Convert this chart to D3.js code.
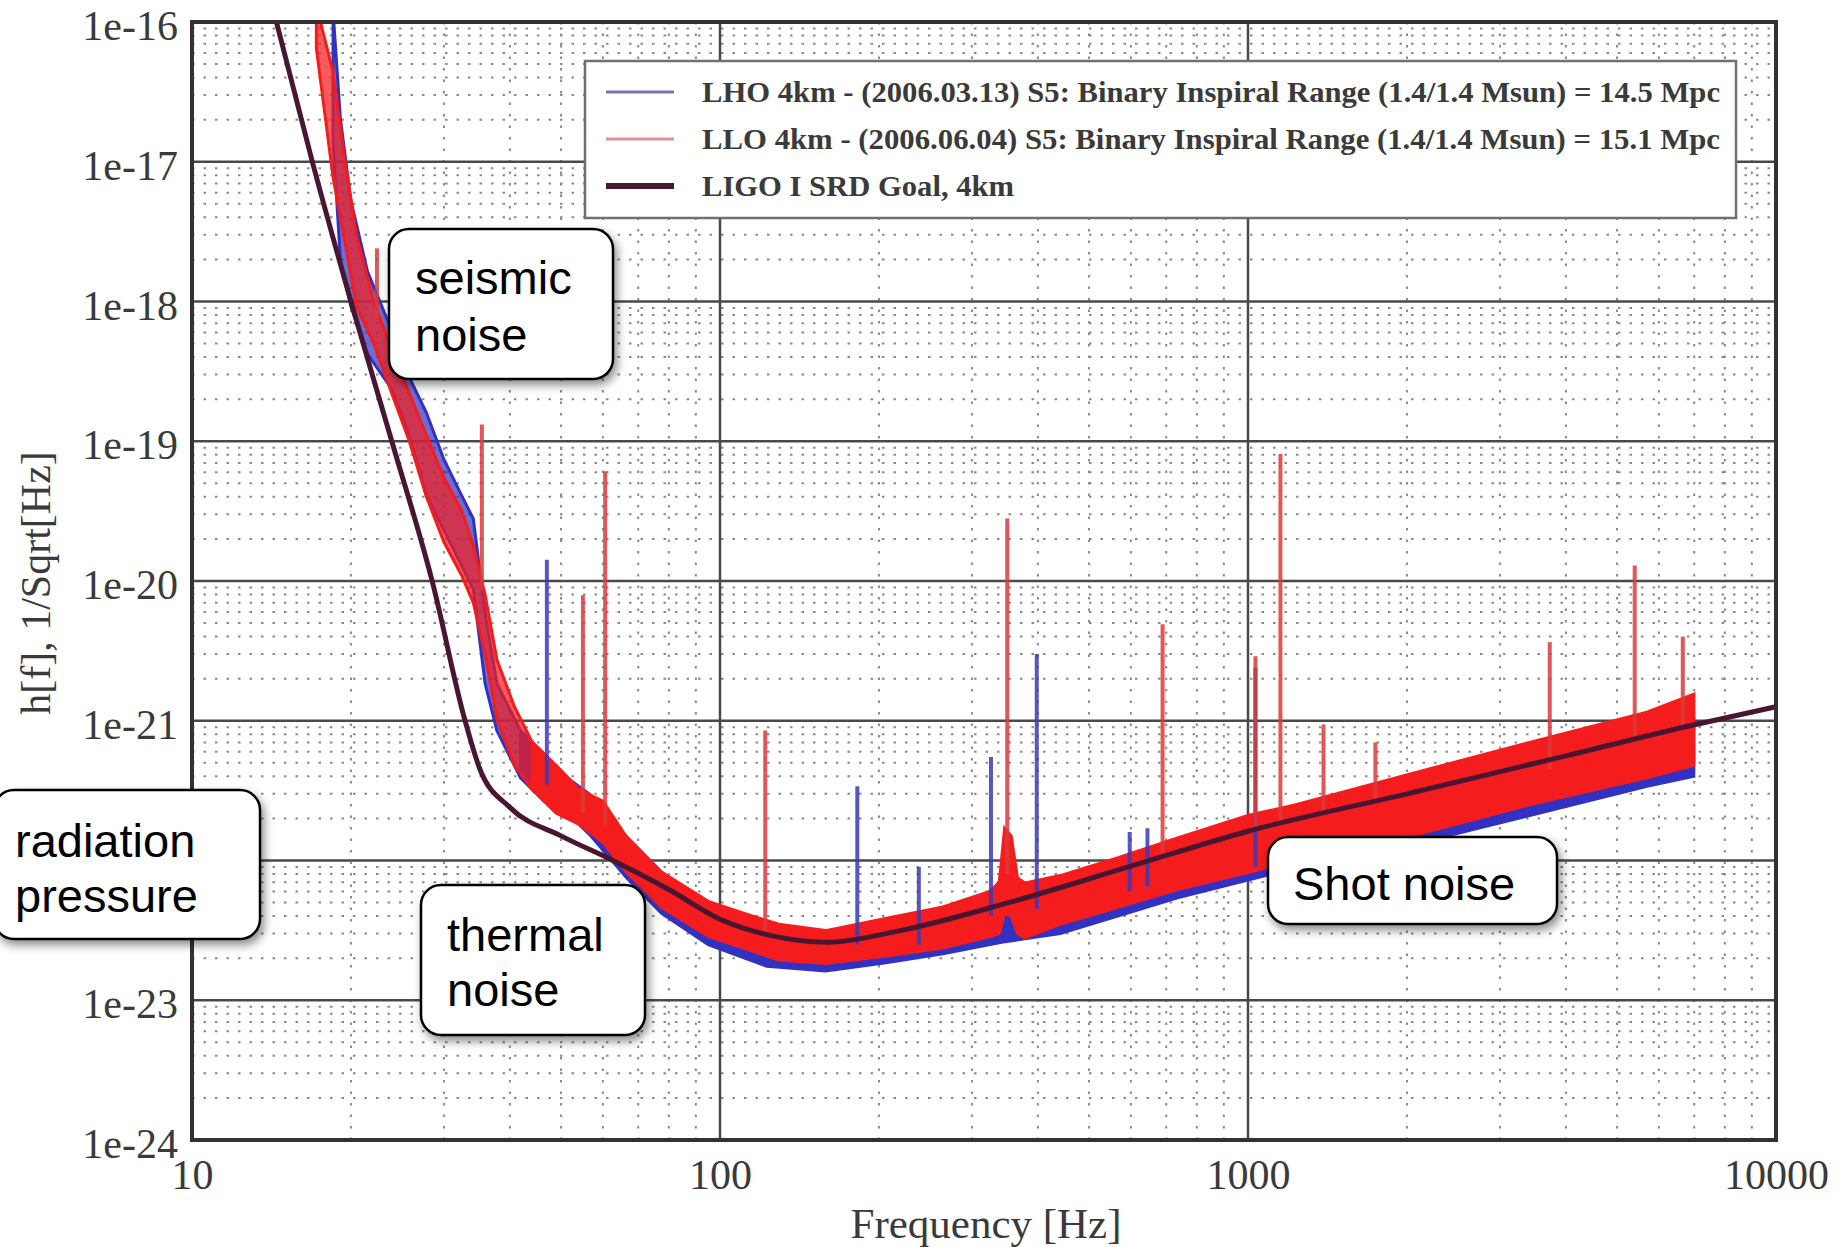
<!DOCTYPE html>
<html>
<head>
<meta charset="utf-8">
<script src="https://cdn.jsdelivr.net/npm/d3@7"></script>
<style>
  body { margin: 0; background: #fff; }
  svg { display: block; }
</style>
</head>
<body>
<svg id="chart" width="1845" height="1247"></svg>
<script>
// LIGO I SRD goal curve (Hz, strain / sqrt(Hz))
var srdFreq   = [14.45, 16.9, 20.0, 23.9, 28.5, 32.9, 35.1, 40, 50, 62.7, 80, 100, 125, 160, 215, 359, 600, 1000, 2000, 4000, 6776, 10000];
var srdStrain = [1e-16, 1e-17, 1e-18, 1e-19, 1e-20, 1e-21, 4.5e-22, 2.4e-22, 1.5e-22, 1.0e-22, 6.2e-23, 3.8e-23, 2.9e-23, 2.6e-23, 3.1e-23, 5.1e-23, 9.1e-23, 1.62e-22, 3.0e-22, 5.6e-22, 9.1e-22, 1.26e-21];

// LLO 4km noise band (upper / lower edge)
var lloFreq = [17.2, 18.5, 19.4, 20.5, 22.1, 23.9, 25.8, 27.8, 30.0, 32.4, 34.1, 35.9, 37.8, 40.8, 44.1, 48.9, 54.1, 60.0, 66.4, 77.4, 95.0, 110.8, 129.2, 158.5, 204.7, 264.4, 324.4, 338, 346, 356, 366, 378.4, 441, 569.6, 735.6, 1000, 1227, 2047, 3415, 5696, 6988];
var lloHigh = [1.3e-16, 4.4e-17, 1.14e-17, 2.93e-18, 1.0e-18, 4.5e-19, 2.2e-19, 1.1e-19, 5.5e-20, 3.2e-20, 1.8e-20, 8.0e-21, 2.73e-21, 1.26e-21, 7.0e-22, 4.8e-22, 3.23e-22, 2.66e-22, 1.49e-22, 8.3e-23, 5.1e-23, 4.2e-23, 3.5e-23, 3.15e-23, 3.83e-23, 4.65e-23, 6.0e-23, 7.0e-23, 1.7e-22, 1.5e-22, 7.5e-23, 6.9e-23, 7.8e-23, 1.05e-22, 1.45e-22, 2.1e-22, 2.5e-22, 4.2e-22, 7.0e-22, 1.15e-21, 1.55e-21];
var lloLow  = [6.5e-17, 7.7e-18, 2.93e-18, 9.2e-19, 5.0e-19, 2.2e-19, 1.0e-19, 4.0e-20, 1.9e-20, 1.1e-20, 7.0e-21, 3.0e-21, 1.03e-21, 4.8e-22, 3.23e-22, 2.19e-22, 1.81e-22, 1.35e-22, 8.3e-23, 4.65e-23, 2.86e-23, 2.36e-23, 1.94e-23, 1.83e-23, 2.06e-23, 2.36e-23, 2.86e-23, 3.0e-23, 4.2e-23, 4.0e-23, 3.0e-23, 2.8e-23, 3.5e-23, 4.65e-23, 6.2e-23, 8.2e-23, 1.0e-22, 1.5e-22, 2.5e-22, 3.9e-22, 4.8e-22];

// LHO 4km noise band
var lhoFreq = [18.5, 19.1, 20.0, 21.5, 23.9, 25.8, 27.8, 30.0, 32.4, 34.1, 35.9, 37.8, 41.9, 46.4, 51.4, 57.0, 66.4, 77.4, 95.0, 122.7, 158.5, 204.7, 264.4, 341.5, 441, 735.6, 1227, 2047, 3415, 5696, 6988];
var lhoHigh = [1.2e-16, 2.04e-17, 5.25e-18, 1.64e-18, 6.2e-19, 2.86e-19, 1.6e-19, 7.4e-20, 4.1e-20, 2.79e-20, 5.9e-21, 1.85e-21, 8.5e-22, 5.8e-22, 3.9e-22, 2.93e-22, 1.49e-22, 8.3e-23, 4.2e-23, 3.15e-23, 3.0e-23, 3.5e-23, 4.2e-23, 5.4e-23, 6.9e-23, 1.11e-22, 1.81e-22, 2.66e-22, 4.3e-22, 7.7e-22, 1.03e-21];
var lhoLow  = [1.4e-17, 2.0e-18, 9.2e-19, 4.2e-19, 2.36e-19, 1.09e-19, 4.1e-20, 2.3e-20, 1.29e-20, 8.7e-21, 1.85e-21, 8.5e-22, 3.9e-22, 2.66e-22, 2.19e-22, 1.49e-22, 7.6e-23, 4.2e-23, 2.5e-23, 1.75e-23, 1.62e-23, 1.85e-23, 2.15e-23, 2.6e-23, 3.0e-23, 5.4e-23, 8.8e-23, 1.3e-22, 2.1e-22, 3.4e-22, 4.0e-22];

// line spikes (frequency, peak, foot)
var lloSpikeFreq = [22.4, 35.4, 55.0, 60.6, 121.8, 350, 689, 1033, 1152, 1390, 1743, 3728, 5400, 6660];
var lloSpikePeak = [2.4e-18, 1.32e-19, 7.9e-21, 6.1e-20, 8.5e-22, 2.8e-20, 4.9e-21, 2.9e-21, 8.1e-20, 9.4e-22, 7.0e-22, 3.65e-21, 1.29e-20, 4.0e-21];
var lloSpikeFoot = [7.6e-19, 8.7e-21, 2.2e-22, 1.8e-22, 3.0e-23, 8.0e-23, 1.0e-22, 1.6e-22, 1.8e-22, 2.2e-22, 2.6e-22, 4.5e-22, 7.0e-22, 9.0e-22];

var lhoSpikeFreq = [47.0, 182, 238, 326, 398, 597, 645, 1033];
var lhoSpikePeak = [1.42e-20, 3.4e-22, 9.0e-23, 5.5e-22, 3.0e-21, 1.6e-22, 1.7e-22, 2.4e-21];
var lhoSpikeFoot = [3.5e-22, 2.5e-23, 2.5e-23, 4.0e-23, 4.5e-23, 6.0e-23, 6.5e-23, 9.0e-23];

var xTicks = [10, 100, 1000, 10000];
var yTicks = [1e-24, 1e-23, 1e-22, 1e-21, 1e-20, 1e-19, 1e-18, 1e-17, 1e-16];

var legendLabels = [
  "LHO 4km - (2006.03.13) S5: Binary Inspiral Range (1.4/1.4 Msun) = 14.5 Mpc",
  "LLO 4km - (2006.06.04) S5: Binary Inspiral Range (1.4/1.4 Msun) = 15.1 Mpc",
  "LIGO I SRD Goal, 4km"
];

var notes = [
  { lines: ["seismic", "noise"] },
  { lines: ["radiation", "pressure"] },
  { lines: ["thermal", "noise"] },
  { lines: ["Shot noise"] }
];

// ---------- layout ----------
var plotL = 192, plotR = 1776, plotT = 22, plotB = 1140;
var serif = "'Liberation Serif', 'DejaVu Serif', serif";
var sans = "'Liberation Sans', Arial, sans-serif";

var x = d3.scaleLog().domain([10, 10000]).range([plotL, plotR]);
var y = d3.scaleLog().domain([1e-24, 1e-16]).range([plotB, plotT]);

var svg = d3.select("#chart");

var defs = svg.append("defs");
defs.append("clipPath").attr("id", "plotClip")
  .append("rect").attr("x", plotL).attr("y", plotT)
  .attr("width", plotR - plotL).attr("height", plotB - plotT);

var shadow = defs.append("filter").attr("id", "shadow")
  .attr("x", "-20%").attr("y", "-20%").attr("width", "150%").attr("height", "160%");
shadow.append("feDropShadow").attr("dx", 3).attr("dy", 5)
  .attr("stdDeviation", 5).attr("flood-color", "#000").attr("flood-opacity", 0.45);

defs.append("filter").attr("id", "soft")
  .append("feGaussianBlur").attr("stdDeviation", 0.7);

svg.append("rect").attr("width", 1845).attr("height", 1247).attr("fill", "#fff");

var chart = svg.append("g").attr("filter", "url(#soft)");

// ---------- grid ----------
var isMajor = function(d){ return Math.abs(Math.log10(d) - Math.round(Math.log10(d))) < 1e-9; };
var grid = chart.append("g");

grid.selectAll("line.mx").data(x.ticks().filter(function(d){ return !isMajor(d); }))
  .enter().append("line")
  .attr("x1", function(d){ return x(d); }).attr("x2", function(d){ return x(d); })
  .attr("y1", plotT).attr("y2", plotB)
  .attr("stroke", "#8a8a8a").attr("stroke-width", 2).attr("stroke-dasharray", "2.5,9");

grid.selectAll("line.my").data(y.ticks().filter(function(d){ return !isMajor(d); }))
  .enter().append("line")
  .attr("x1", plotL).attr("x2", plotR)
  .attr("y1", function(d){ return y(d); }).attr("y2", function(d){ return y(d); })
  .attr("stroke", "#8a8a8a").attr("stroke-width", 2).attr("stroke-dasharray", "2.5,9");

grid.selectAll("line.Mx").data(xTicks)
  .enter().append("line")
  .attr("x1", function(d){ return x(d); }).attr("x2", function(d){ return x(d); })
  .attr("y1", plotT).attr("y2", plotB)
  .attr("stroke", "#4a4a4a").attr("stroke-width", 2.5);

grid.selectAll("line.My").data(yTicks)
  .enter().append("line")
  .attr("x1", plotL).attr("x2", plotR)
  .attr("y1", function(d){ return y(d); }).attr("y2", function(d){ return y(d); })
  .attr("stroke", "#4a4a4a").attr("stroke-width", 2.5);

// ---------- data ----------
var plot = chart.append("g").attr("clip-path", "url(#plotClip)");

function band(freq, hi, lo){
  return freq.map(function(f, i){ return { f: f, hi: hi[i], lo: lo[i] }; });
}
var area = d3.area()
  .x(function(d){ return x(d.f); })
  .y0(function(d){ return y(d.lo); })
  .y1(function(d){ return y(d.hi); });

// the seismic part of each trace is a sparse zigzag, drawn lighter
function drawBand(data, color){
  var split = 44.5;
  var lowPart = data.filter(function(d){ return d.f <= split; });
  var highPart = data.filter(function(d){ return d.f >= lowPart[lowPart.length - 1].f; });
  plot.append("path").datum(lowPart).attr("d", area)
    .attr("fill", color).attr("fill-opacity", 0.72)
    .attr("stroke", color).attr("stroke-width", 3);
  plot.append("path").datum(highPart).attr("d", area)
    .attr("fill", color).attr("stroke", color).attr("stroke-width", 3);
}
drawBand(band(lhoFreq, lhoHigh, lhoLow), "#3232c2");
drawBand(band(lloFreq, lloHigh, lloLow), "#f41e1e");

function spikes(freq, peak, foot){
  return freq.map(function(f, i){ return { f: f, peak: peak[i], foot: foot[i] }; });
}
plot.selectAll("line.lho").data(spikes(lhoSpikeFreq, lhoSpikePeak, lhoSpikeFoot))
  .enter().append("line")
  .attr("x1", function(d){ return x(d.f); }).attr("x2", function(d){ return x(d.f); })
  .attr("y1", function(d){ return y(d.peak); }).attr("y2", function(d){ return y(d.foot); })
  .attr("stroke", "#3a3ab8").attr("stroke-width", 4).attr("opacity", 0.85);

plot.selectAll("line.llo").data(spikes(lloSpikeFreq, lloSpikePeak, lloSpikeFoot))
  .enter().append("line")
  .attr("x1", function(d){ return x(d.f); }).attr("x2", function(d){ return x(d.f); })
  .attr("y1", function(d){ return y(d.peak); }).attr("y2", function(d){ return y(d.foot); })
  .attr("stroke", "#dc3a3a").attr("stroke-width", 4).attr("opacity", 0.85);

var srdLine = d3.line()
  .x(function(d, i){ return x(srdFreq[i]); })
  .y(function(d){ return y(d); })
  .curve(d3.curveMonotoneX);

plot.append("path").datum(srdStrain)
  .attr("d", srdLine).attr("fill", "none")
  .attr("stroke", "#4a1632").attr("stroke-width", 5);

// ---------- frame ----------
chart.append("rect").attr("x", plotL).attr("y", plotT)
  .attr("width", plotR - plotL).attr("height", plotB - plotT)
  .attr("fill", "none").attr("stroke", "#333").attr("stroke-width", 4);

// ---------- axes ----------
var yAxis = svg.append("g").attr("transform", "translate(" + plotL + ",0)")
  .call(d3.axisLeft(y).tickValues(yTicks).tickSize(0).tickPadding(14)
    .tickFormat(function(d){ return "1e" + Math.round(Math.log10(d)); }));
yAxis.select(".domain").remove();
yAxis.selectAll("text").attr("font-family", serif).attr("font-size", 42)
  .attr("fill", "#3a3a3a").attr("dy", "0.42em");

var xAxis = svg.append("g").attr("transform", "translate(0," + plotB + ")")
  .call(d3.axisBottom(x).tickValues(xTicks).tickSize(0).tickPadding(19)
    .tickFormat(d3.format("d")));
xAxis.select(".domain").remove();
xAxis.selectAll("text").attr("font-family", serif).attr("font-size", 42).attr("fill", "#3a3a3a");

svg.append("text").attr("x", 986).attr("y", 1238)
  .attr("text-anchor", "middle").attr("font-family", serif).attr("font-size", 43)
  .attr("fill", "#3a3a3a").text("Frequency [Hz]");

svg.append("text").attr("transform", "translate(50,583) rotate(-90)")
  .attr("text-anchor", "middle").attr("font-family", serif).attr("font-size", 42)
  .attr("fill", "#3a3a3a").text("h[f], 1/Sqrt[Hz]");

// ---------- legend ----------
var legend = svg.append("g");
legend.append("rect").attr("x", 585).attr("y", 61).attr("width", 1151).attr("height", 157)
  .attr("fill", "#fff").attr("stroke", "#707070").attr("stroke-width", 2.5);

var legendStyle = [
  { color: "#7474b4", width: 3, len: 1018 },
  { color: "#e49090", width: 3, len: 1018 },
  { color: "#4a1632", width: 6, len: 312 }
];
var rows = legend.selectAll("g.row").data(legendLabels).enter().append("g")
  .attr("transform", function(d, i){ return "translate(0," + (92 + i * 47) + ")"; });
rows.append("line").attr("x1", 606).attr("x2", 674).attr("y1", 0).attr("y2", 0)
  .attr("stroke", function(d, i){ return legendStyle[i].color; })
  .attr("stroke-width", function(d, i){ return legendStyle[i].width; });
rows.append("text").attr("x", 702).attr("y", 10)
  .attr("font-family", serif).attr("font-size", 29).attr("font-weight", "bold").attr("fill", "#3a3a3a")
  .attr("textLength", function(d, i){ return legendStyle[i].len; })
  .attr("lengthAdjust", "spacingAndGlyphs")
  .text(function(d){ return d; });

// ---------- callouts ----------
var noteBoxes = [
  { x: 389, y: 229, w: 224, h: 150, tx: 415, base: [294, 351] },
  { x: -6, y: 790, w: 266, h: 149, tx: 15, base: [857, 912] },
  { x: 421, y: 885, w: 224, h: 150, tx: 447, base: [951, 1006] },
  { x: 1268, y: 837, w: 289, h: 87, tx: 1293, base: [900] }
];
var callouts = svg.selectAll("g.note").data(notes).enter().append("g");
callouts.append("rect")
  .attr("x", function(d, i){ return noteBoxes[i].x; })
  .attr("y", function(d, i){ return noteBoxes[i].y; })
  .attr("width", function(d, i){ return noteBoxes[i].w; })
  .attr("height", function(d, i){ return noteBoxes[i].h; })
  .attr("rx", 20).attr("ry", 20)
  .attr("fill", "#fff").attr("stroke", "#000").attr("stroke-width", 2.5)
  .attr("filter", "url(#shadow)");
callouts.each(function(d, i){
  var g = d3.select(this);
  d.lines.forEach(function(t, k){
    g.append("text").attr("x", noteBoxes[i].tx).attr("y", noteBoxes[i].base[k])
      .attr("font-family", sans).attr("font-size", 47).attr("fill", "#000").text(t);
  });
});
</script>
</body>
</html>
